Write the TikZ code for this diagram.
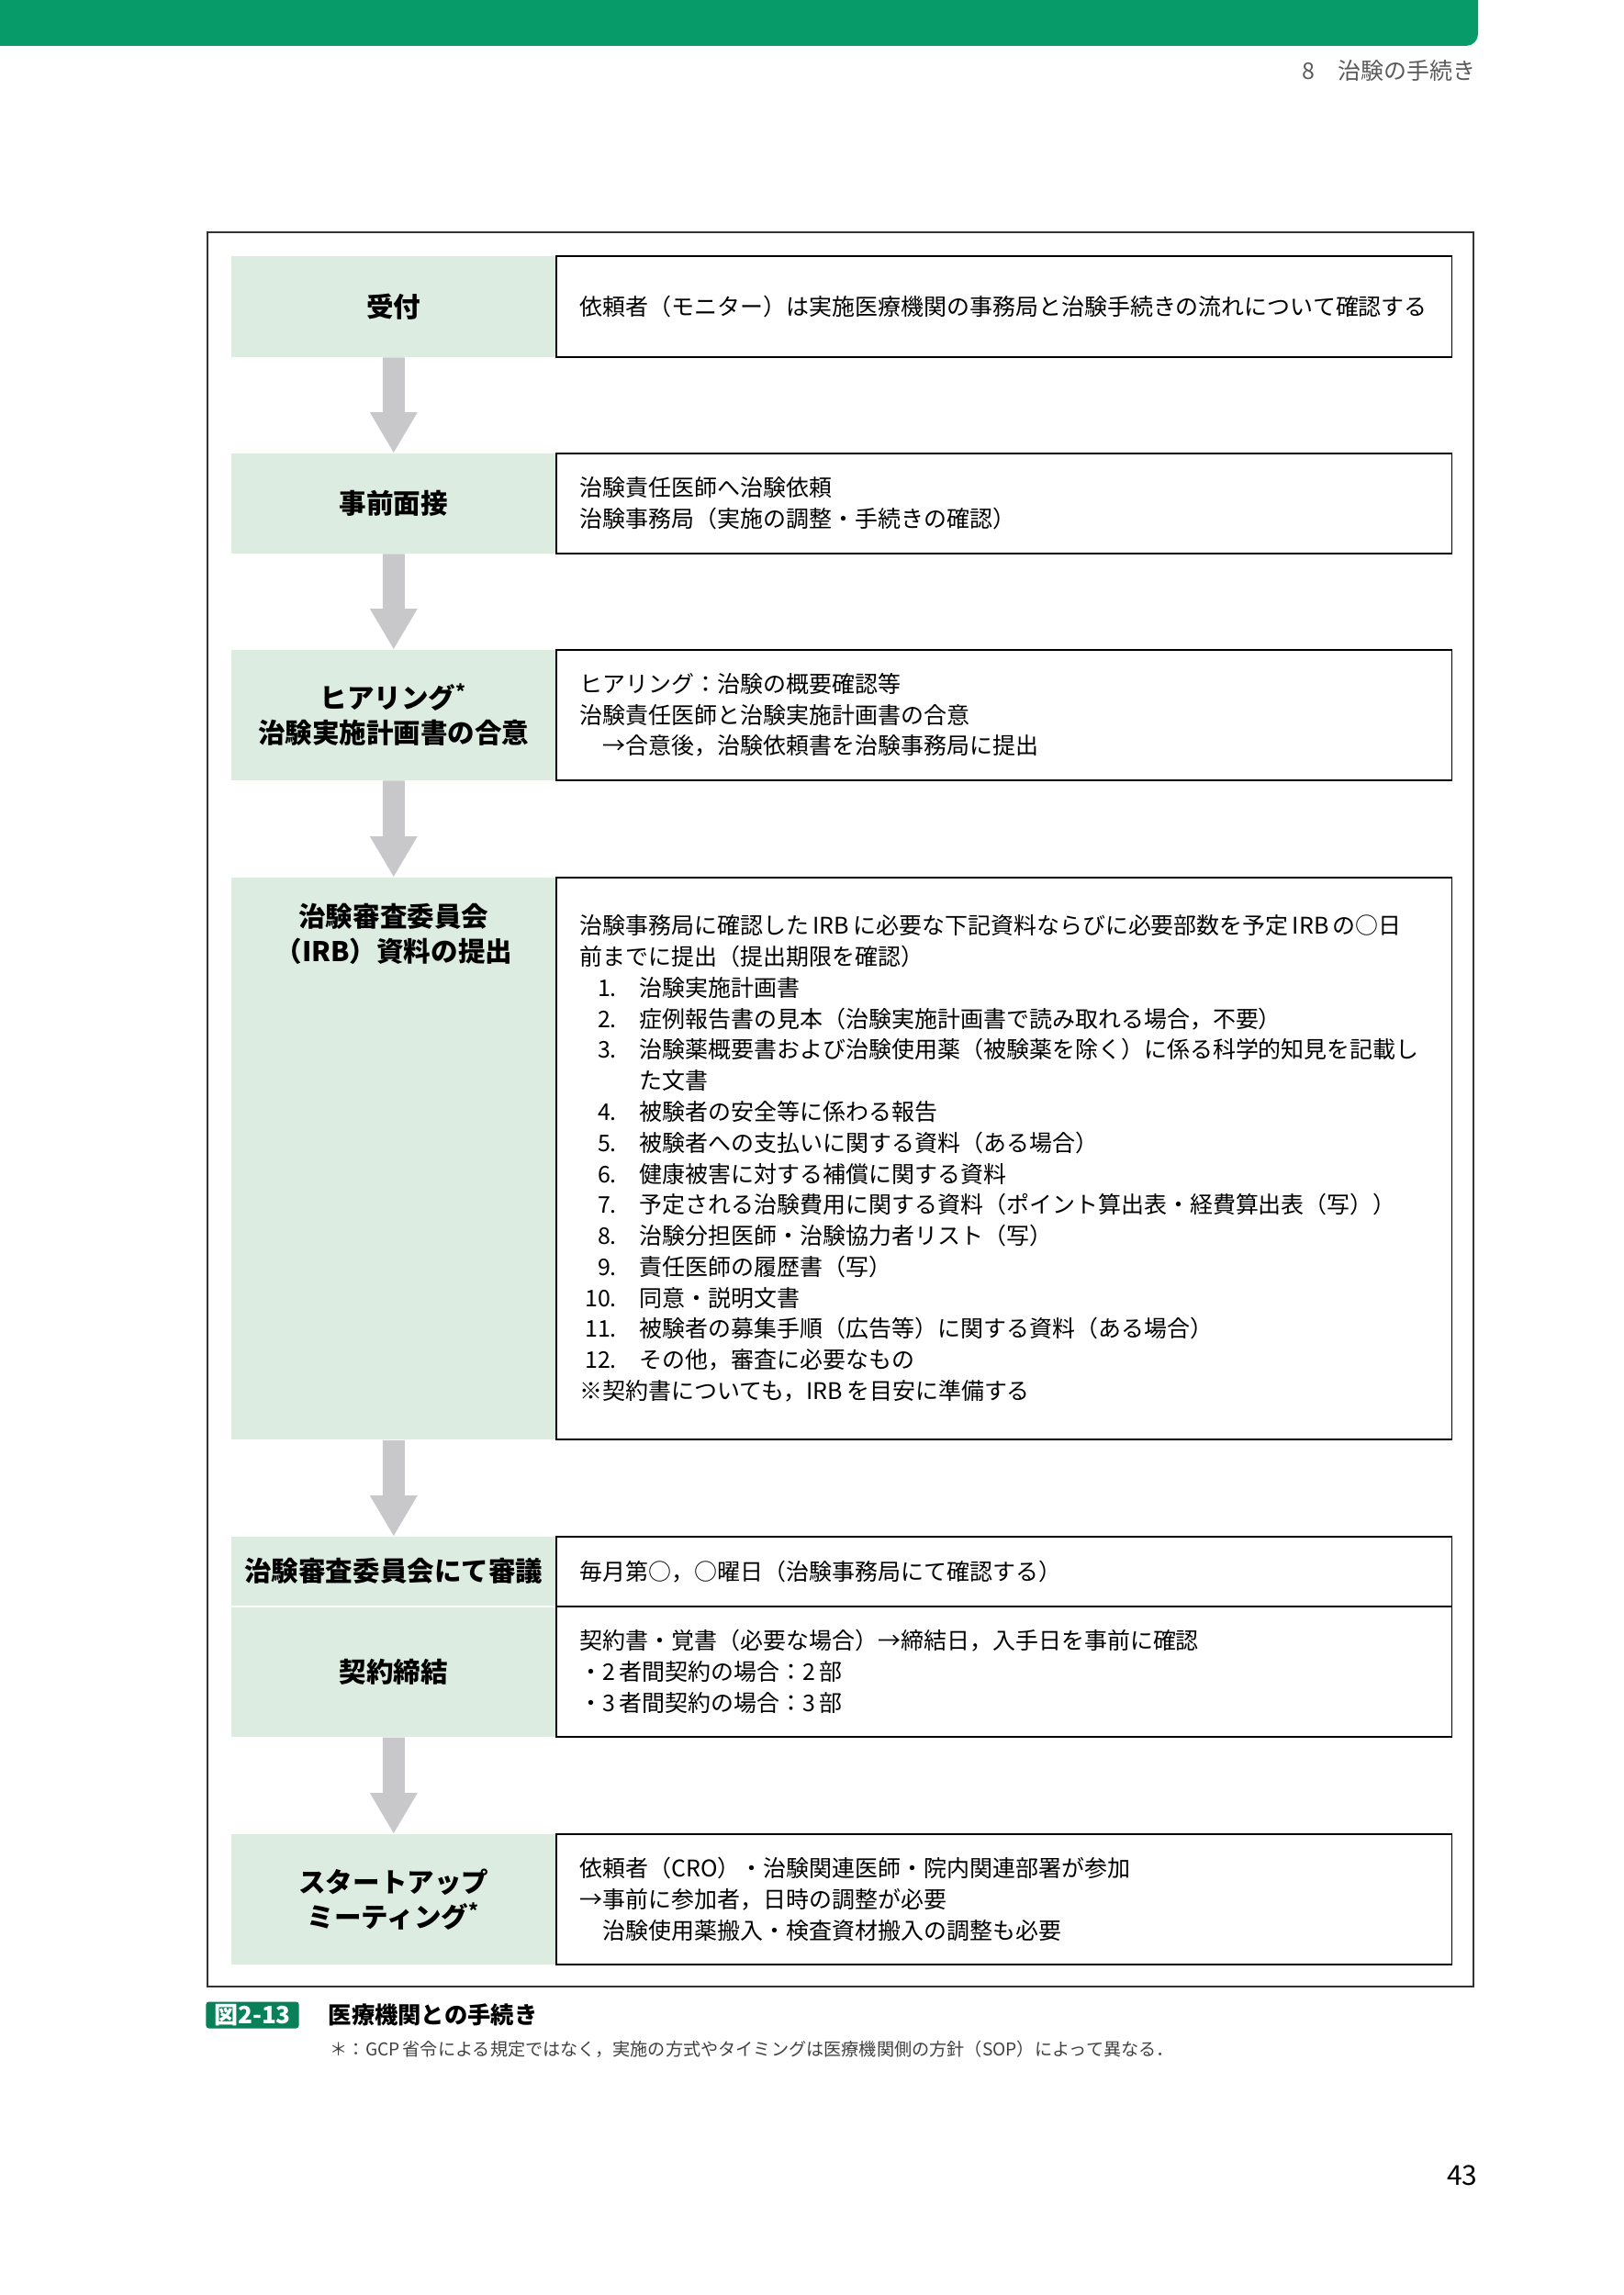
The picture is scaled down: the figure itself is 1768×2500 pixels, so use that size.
\documentclass[tikz,border=0pt]{standalone}
\usepackage{fontspec}
\setmainfont{Noto Sans CJK JP}
\usetikzlibrary{calc}
\definecolor{topgreen}{RGB}{7,155,105}
\definecolor{capgreen}{RGB}{10,128,88}
\definecolor{cellgreen}{RGB}{220,236,225}
\definecolor{arrowgray}{RGB}{200,200,202}
\definecolor{headgray}{RGB}{90,90,90}
\newcommand{\lblfont}{\fontsize{8.4pt}{10.8pt}\selectfont\bfseries}
\newcommand{\txtfont}{\fontsize{7.1pt}{9.6pt}\selectfont}
\newcommand{\irbitem}[2]{\makebox[0.40cm][r]{#1.}\hspace{0.25cm}#2}
\newcommand{\flowarrow}[2]{%
	\fill[arrowgray] ($(#1.south)+(-12,0)$) -- ($(#2.north)+(-12,-44)$) -- ($(#2.north)+(-26,-44)$) -- (#2.north)
		-- ($(#2.north)+(26,-44)$) -- ($(#2.north)+(12,-44)$) -- ($(#1.south)+(12,0)$) -- cycle;}
\tikzset{
	cell/.style={fill=cellgreen,inner sep=0pt,minimum width=3.54cm,anchor=north west,align=center,font=\lblfont},
	lbl/.style={inner sep=0pt,anchor=north,align=center,font=\lblfont},
	info/.style={draw=black,line width=0.45pt,minimum width=9.75cm,text width=9.23cm,inner xsep=0.26cm,anchor=north west,align=left,font=\txtfont}
}
\begin{document}
\begin{tikzpicture}[x=0.01cm,y=-0.01cm]
	\useasboundingbox (0,0) rectangle (1768,2500);
	\fill[topgreen,rounded corners=0.13cm] (-50,-50) rectangle (1610,50);
	\node[anchor=east,text=headgray,font=\fontsize{7.1pt}{9pt}\selectfont] (chap) at (1620,77) {8　治験の手続き};
	\draw[black!80,line width=0.4pt] (226,253) rectangle (1605,2164);

	\node[cell,minimum height=1.10cm] (l1) at (251,278) {受付};
	\node[info,minimum height=1.10cm] (r1) at (605,278) {依頼者（モニター）は実施医療機関の事務局と治験手続きの流れについて確認する};

	\node[cell,minimum height=1.09cm] (l2) at (251,493) {事前面接};
	\node[info,minimum height=1.09cm] (r2) at (605,493) {治験責任医師へ治験依頼\\治験事務局（実施の調整・手続きの確認）};

	\node[cell,minimum height=1.42cm] (l3) at (251,707) {ヒアリング\textsuperscript{*}\\治験実施計画書の合意};
	\node[info,minimum height=1.42cm] (r3) at (605,707) {ヒアリング：治験の概要確認等\\治験責任医師と治験実施計画書の合意\\\hspace*{1em}→合意後，治験依頼書を治験事務局に提出};

	\node[cell,minimum height=6.12cm] (l4) at (251,955) {};
	\node[lbl] (l4t) at ($(l4.north)+(0,28)$) {治験審査委員会\\（IRB）資料の提出};
	\node[info,minimum height=6.12cm] (r4) at (605,955) {治験事務局に確認した\,IRB\,に必要な下記資料ならびに必要部数を予定\,IRB\,の○日\\前までに提出（提出期限を確認）\\
		\irbitem{1}{治験実施計画書}\\
		\irbitem{2}{症例報告書の見本（治験実施計画書で読み取れる場合，不要）}\\
		\irbitem{3}{治験薬概要書および治験使用薬（被験薬を除く）に係る科学的知見を記載し}\\
		\hspace*{0.65cm}た文書\\
		\irbitem{4}{被験者の安全等に係わる報告}\\
		\irbitem{5}{被験者への支払いに関する資料（ある場合）}\\
		\irbitem{6}{健康被害に対する補償に関する資料}\\
		\irbitem{7}{予定される治験費用に関する資料（ポイント算出表・経費算出表（写））}\\
		\irbitem{8}{治験分担医師・治験協力者リスト（写）}\\
		\irbitem{9}{責任医師の履歴書（写）}\\
		\irbitem{10}{同意・説明文書}\\
		\irbitem{11}{被験者の募集手順（広告等）に関する資料（ある場合）}\\
		\irbitem{12}{その他，審査に必要なもの}\\
		※契約書についても，IRB\,を目安に準備する};

	\node[cell,minimum height=0.75cm] (l5) at (251,1673) {治験審査委員会にて審議};
	\node[info,minimum height=0.76cm] (r5) at (605,1673) {毎月第○，○曜日（治験事務局にて確認する）};

	\node[cell,minimum height=1.41cm] (l6) at (251,1750) {契約締結};
	\node[info,minimum height=1.42cm] (r6) at (605,1749) {契約書・覚書（必要な場合）→締結日，入手日を事前に確認\\・2\,者間契約の場合：2\,部\\・3\,者間契約の場合：3\,部};

	\node[cell,minimum height=1.42cm] (l7) at (251,1997) {スタートアップ\\ミーティング\textsuperscript{*}};
	\node[info,minimum height=1.42cm] (r7) at (605,1997) {依頼者（CRO）・治験関連医師・院内関連部署が参加\\→事前に参加者，日時の調整が必要\\\hspace*{1em}治験使用薬搬入・検査資材搬入の調整も必要};

	\flowarrow{l1}{l2}
	\flowarrow{l2}{l3}
	\flowarrow{l3}{l4}
	\flowarrow{l4}{l5}
	\flowarrow{l6}{l7}

	\node[fill=capgreen,text=white,rounded corners=0.03cm,inner sep=0pt,minimum width=1.01cm,minimum height=0.29cm,font=\fontsize{7.4pt}{9pt}\selectfont\bfseries] (fig) at (275,2195) {図2-13};
	\node[anchor=west,inner sep=0pt,font=\fontsize{7.2pt}{9pt}\selectfont\bfseries] (cap) at (357,2195) {医療機関との手続き};
	\node[anchor=west,inner sep=0pt,text=black!75,font=\fontsize{5.45pt}{7pt}\selectfont] (note) at (359,2232) {＊：GCP\,省令による規定ではなく，実施の方式やタイミングは医療機関側の方針（SOP）によって異なる．};
	\node[anchor=east,inner sep=0pt,font=\fontsize{8.5pt}{10pt}\selectfont] (pg) at (1610,2370) {43};
\end{tikzpicture}
\end{document}
